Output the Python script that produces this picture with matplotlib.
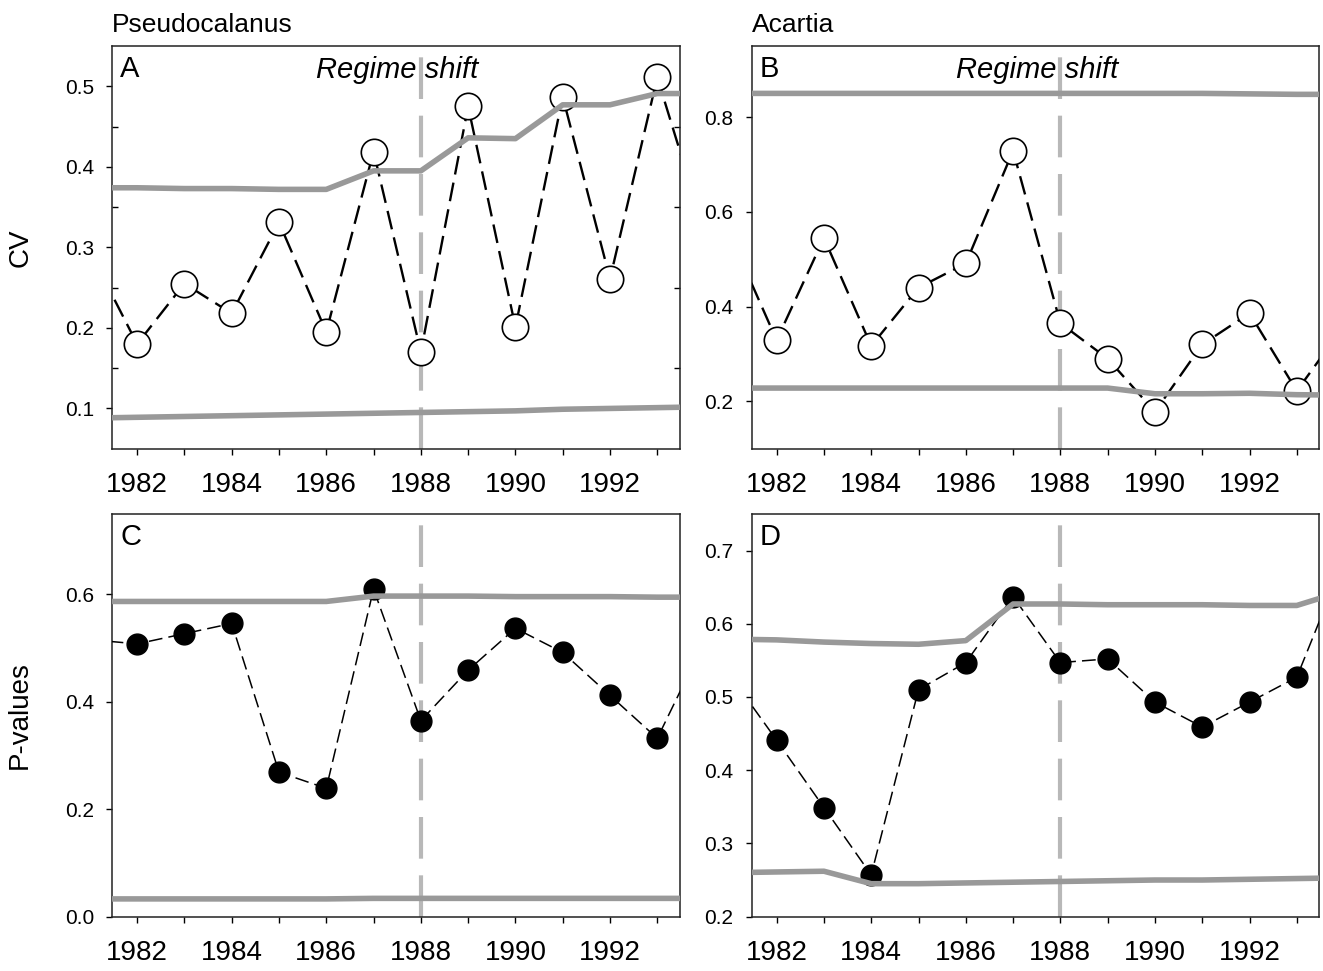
import matplotlib
matplotlib.use('Agg')
import matplotlib.pyplot as plt
from matplotlib.ticker import FixedLocator

plt.rcParams['font.family'] = ['Liberation Sans', 'DejaVu Sans']

# years incl. one point on each side that is clipped by the axis limits
years = list(range(1981, 1995))
xticks = list(range(1982, 1994))
xticklabels = ['1982', '', '1984', '', '1986', '', '1988', '', '1990', '', '1992', '']
shift_year = 1988

# A - Pseudocalanus CV
cv_pseudo = [0.295, 0.18, 0.255, 0.218, 0.331, 0.195, 0.419, 0.17, 0.475, 0.201, 0.487, 0.261, 0.511, 0.32]
cv_pseudo_hi = [0.374, 0.374, 0.373, 0.373, 0.372, 0.372, 0.395, 0.395, 0.436, 0.435, 0.477, 0.477, 0.491, 0.491]
cv_pseudo_lo = [0.088, 0.089, 0.090, 0.091, 0.092, 0.093, 0.094, 0.095, 0.096, 0.097, 0.099, 0.100, 0.101, 0.102]

# B - Acartia CV
cv_acartia = [0.555, 0.329, 0.545, 0.317, 0.44, 0.491, 0.729, 0.365, 0.29, 0.178, 0.32, 0.386, 0.222, 0.36]
cv_acartia_hi = [0.85, 0.85, 0.85, 0.85, 0.85, 0.85, 0.85, 0.85, 0.85, 0.85, 0.85, 0.849, 0.848, 0.848]
cv_acartia_lo = [0.228, 0.228, 0.228, 0.228, 0.228, 0.228, 0.228, 0.228, 0.228, 0.216, 0.216, 0.217, 0.214, 0.213]

# C - Pseudocalanus P-values
p_pseudo = [0.516, 0.508, 0.527, 0.546, 0.269, 0.239, 0.61, 0.365, 0.459, 0.537, 0.492, 0.412, 0.332, 0.513]
p_pseudo_hi = [0.587, 0.587, 0.587, 0.587, 0.587, 0.587, 0.597, 0.597, 0.597, 0.596, 0.596, 0.596, 0.595, 0.595]
p_pseudo_lo = [0.033, 0.033, 0.033, 0.033, 0.033, 0.033, 0.034, 0.034, 0.034, 0.034, 0.034, 0.034, 0.034, 0.034]

# D - Acartia P-values
p_acartia = [0.531, 0.441, 0.349, 0.257, 0.51, 0.547, 0.637, 0.547, 0.552, 0.493, 0.459, 0.493, 0.527, 0.687]
p_acartia_hi = [0.579, 0.578, 0.575, 0.573, 0.572, 0.577, 0.627, 0.627, 0.626, 0.626, 0.626, 0.625, 0.625, 0.645]
p_acartia_lo = [0.26, 0.261, 0.262, 0.245, 0.245, 0.246, 0.247, 0.248, 0.249, 0.25, 0.25, 0.251, 0.252, 0.253]

GRAY = '#999999'
VGRAY = '#b8b8b8'


def panel(ax, vals, hi, lo, letter, ylim, yticks, filled):
    ax.axvline(shift_year, color=VGRAY, lw=3, dashes=(10, 4), zorder=1)
    if filled:
        ax.plot(years, vals, color='black', lw=1.1, dashes=(9, 4), zorder=3)
        ax.plot(years, vals, 'o', color='black', ms=15, zorder=3)
    else:
        ax.plot(years, vals, color='black', lw=1.7, dashes=(8, 3.5), zorder=3)
        ax.plot(years, vals, 'o', mfc='white', mec='black', mew=1.2, ms=19, zorder=3)
    ax.plot(years, hi, color=GRAY, lw=4, zorder=4, solid_capstyle='butt')
    ax.plot(years, lo, color=GRAY, lw=4, zorder=4, solid_capstyle='butt')
    ax.set_xlim(1981.47, 1993.47)
    ax.set_ylim(*ylim)
    ax.set_xticks(xticks)
    ax.set_xticklabels(xticklabels)
    ax.set_yticks(yticks)
    ax.set_yticklabels(['%.1f' % y for y in yticks])
    ax.tick_params(axis='x', direction='out', length=4, width=1, pad=13, labelsize=20)
    ax.tick_params(axis='y', direction='out', length=4, width=1, pad=9, labelsize=15)
    for s in ax.spines.values():
        s.set_linewidth(1.1)
        s.set_color('#222222')
    ax.text(0.014, 0.978, letter, transform=ax.transAxes, fontsize=21, va='top', ha='left')


fig, axes = plt.subplots(2, 2, figsize=(13.23, 9.71), dpi=100)
plt.subplots_adjust(left=0.0847, right=0.997, top=0.9526, bottom=0.056, wspace=0.127, hspace=0.162)

ax = axes[0, 0]
panel(ax, cv_pseudo, cv_pseudo_hi, cv_pseudo_lo, 'A', (0.05, 0.55), [0.1, 0.2, 0.3, 0.4, 0.5], False)
ax.yaxis.set_minor_locator(FixedLocator([0.15, 0.25, 0.35, 0.45]))
ax.tick_params(axis='y', which='minor', direction='in', left=True, right=True, length=4, width=1)
ax.set_ylabel('CV', fontsize=20)
ax.yaxis.set_label_coords(-0.139, 0.5)
ax.text(1987.5, 0.94, 'Regime shift', transform=ax.get_xaxis_transform(), fontsize=21,
        style='italic', ha='center', va='center')
ax.text(0, 1.035, 'Pseudocalanus', transform=ax.transAxes, fontsize=19, ha='left', va='baseline')

ax = axes[0, 1]
panel(ax, cv_acartia, cv_acartia_hi, cv_acartia_lo, 'B', (0.1, 0.95), [0.2, 0.4, 0.6, 0.8], False)
ax.text(1987.5, 0.94, 'Regime shift', transform=ax.get_xaxis_transform(), fontsize=21,
        style='italic', ha='center', va='center')
ax.text(0, 1.035, 'Acartia', transform=ax.transAxes, fontsize=19, ha='left', va='baseline')

ax = axes[1, 0]
panel(ax, p_pseudo, p_pseudo_hi, p_pseudo_lo, 'C', (0.0, 0.75), [0.0, 0.2, 0.4, 0.6], True)
ax.set_ylabel('P-values', fontsize=20)
ax.yaxis.set_label_coords(-0.139, 0.5)

ax = axes[1, 1]
panel(ax, p_acartia, p_acartia_hi, p_acartia_lo, 'D', (0.2, 0.75), [0.2, 0.3, 0.4, 0.5, 0.6, 0.7], True)

plt.savefig('out.png', dpi=100)
